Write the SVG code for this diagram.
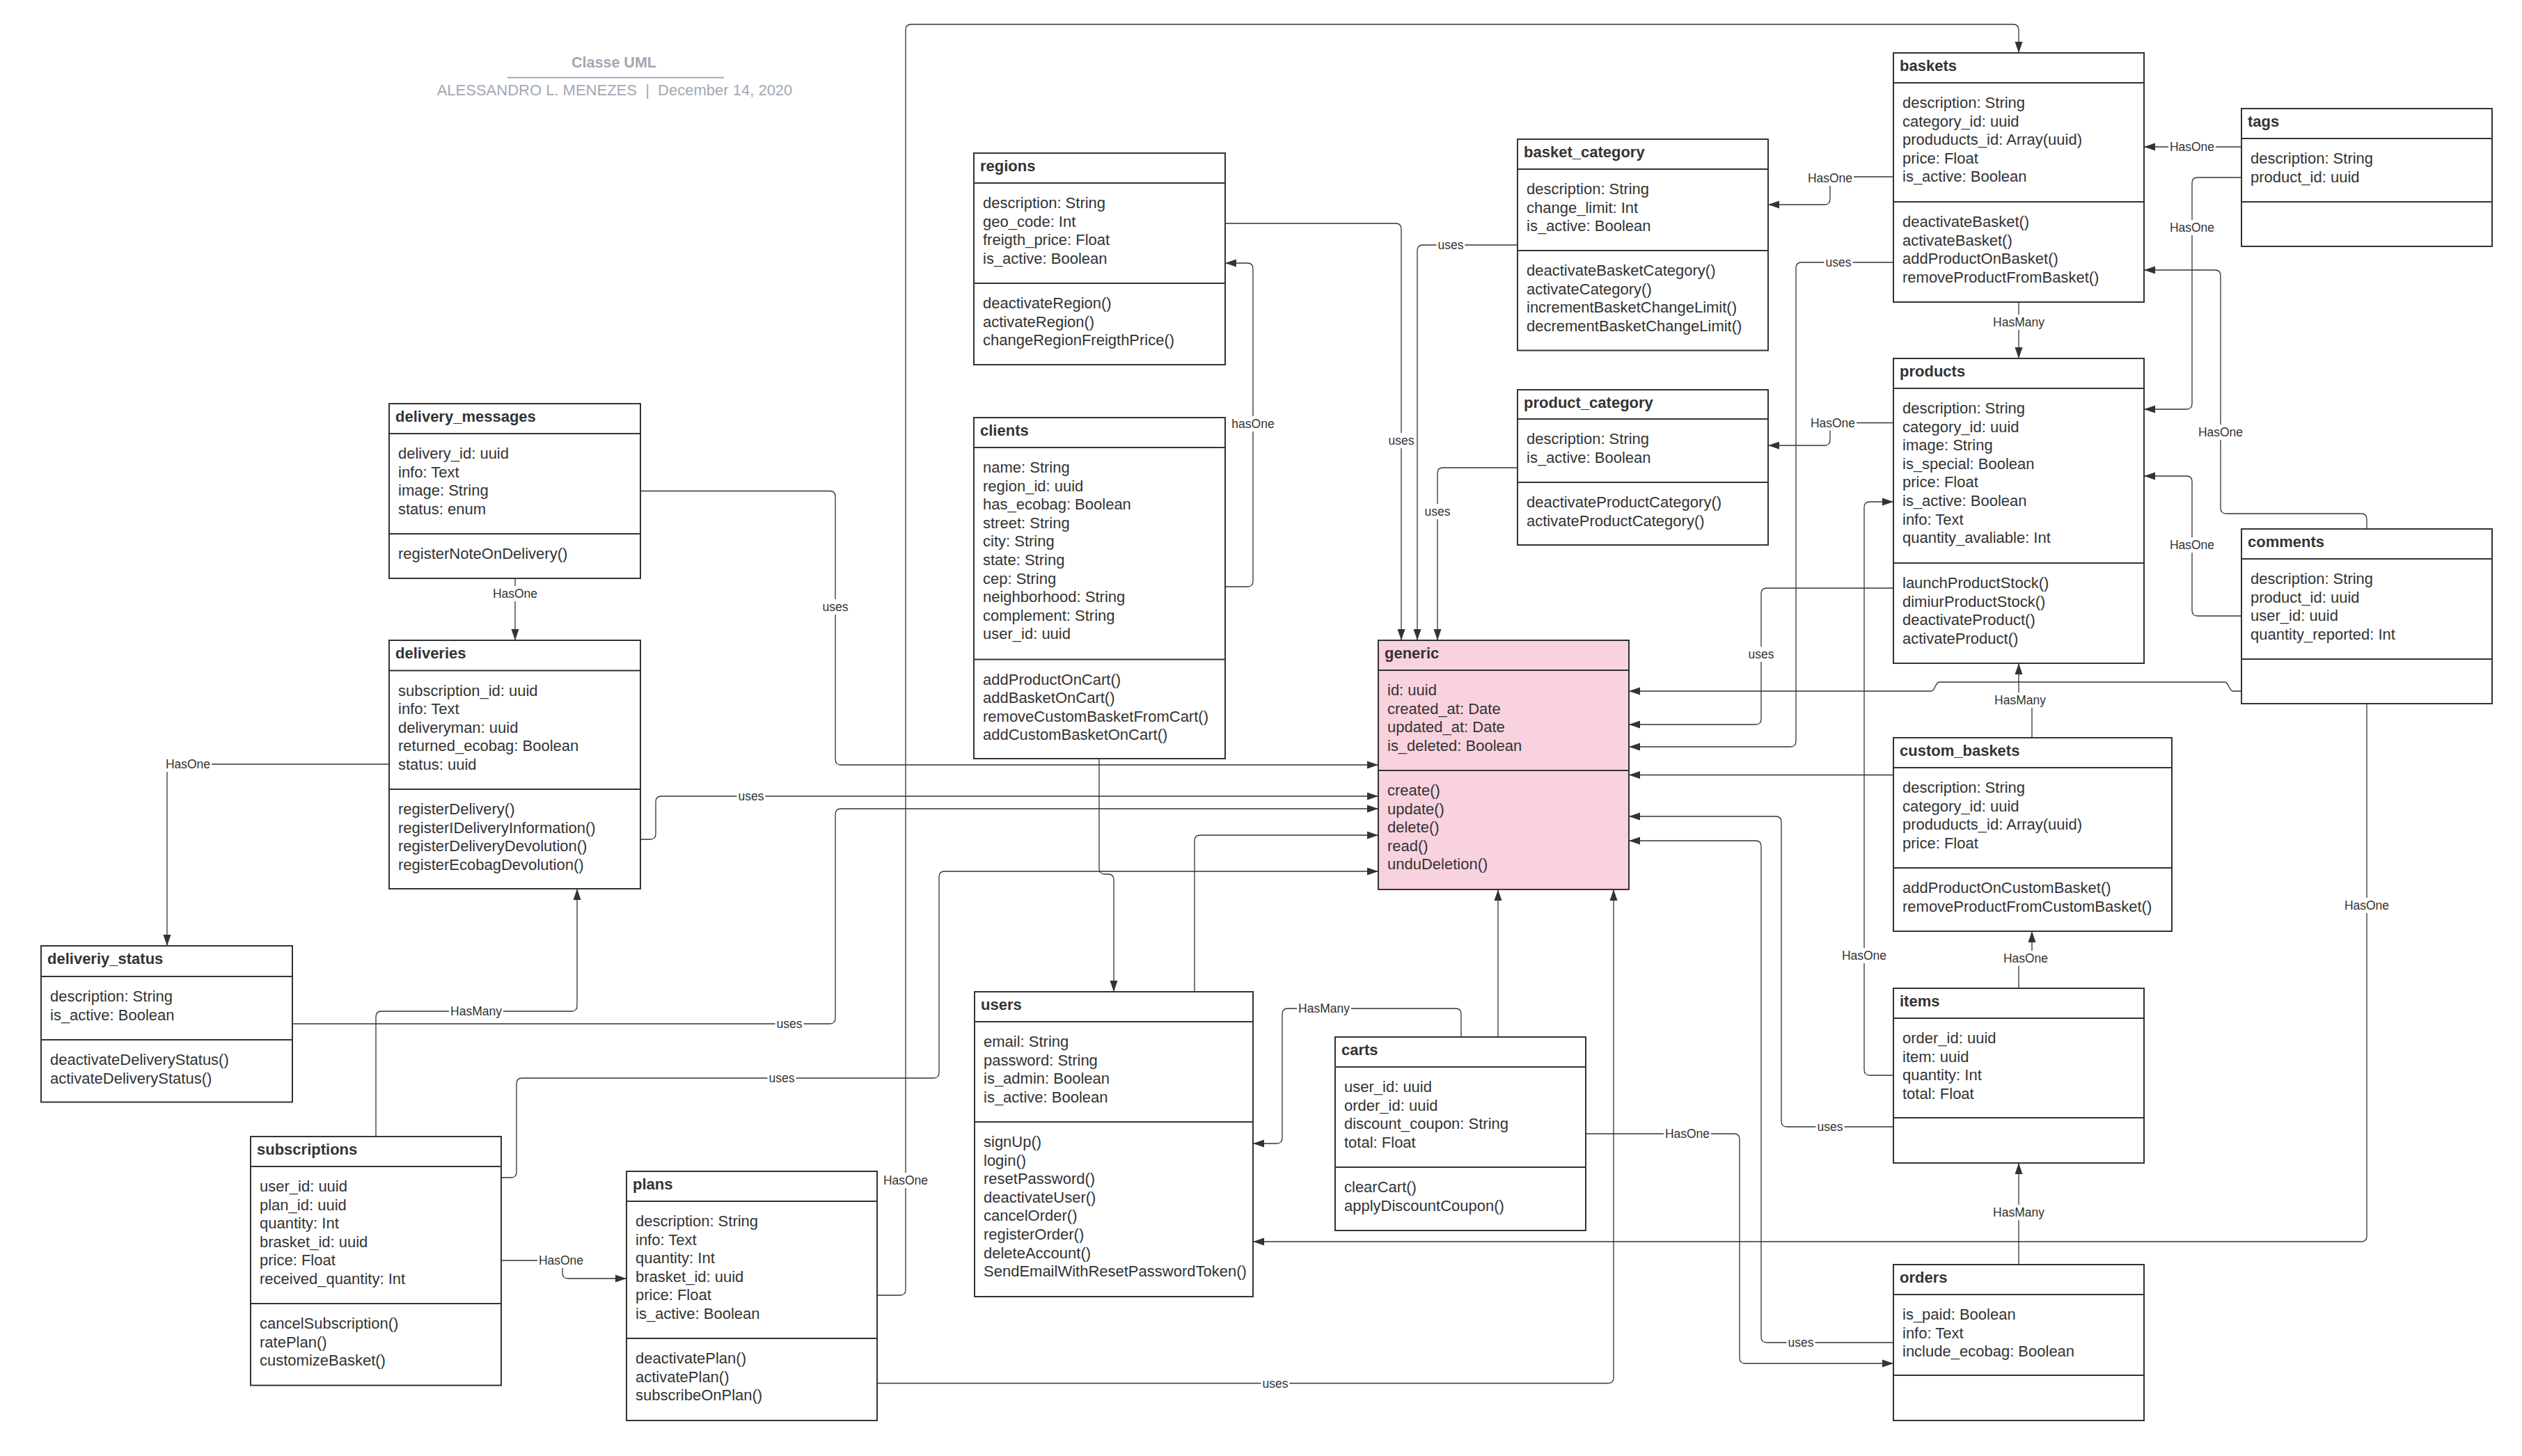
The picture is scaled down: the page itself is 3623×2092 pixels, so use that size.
<svg xmlns="http://www.w3.org/2000/svg" width="3623" height="2092" viewBox="0 0 3623 2092">
<style>
.bg{fill:#fff}
.box{fill:#fff;stroke:#333;stroke-width:2}
.pink{fill:#F8D2DE}
.sep{fill:none;stroke:#333;stroke-width:2}
.t{font-family:"Liberation Sans",Arial,sans-serif;font-size:22px;fill:#333}
.tt{font-family:"Liberation Sans",Arial,sans-serif;font-size:22px;font-weight:bold;fill:#333}
.conn{fill:none;stroke:#333;stroke-width:1.3;marker-end:url(#arr)}
.lbl rect{fill:#fff}
.lbl text{font-family:"Liberation Sans",Arial,sans-serif;font-size:17.5px;fill:#333;text-anchor:middle}
.hd{font-family:"Liberation Sans",Arial,sans-serif;fill:#A3A8B4;text-anchor:middle}
</style>
<defs>
<marker id="arr" markerUnits="userSpaceOnUse" markerWidth="16" markerHeight="12" refX="16" refY="6" orient="auto">
<path d="M0 0.5 L16 6 L0 11.5 Z" fill="#333"/>
</marker>
</defs>
<rect class="bg" x="0" y="0" width="3623" height="2092"/>

<g id="header">
<text class="hd" x="882" y="97" font-size="21.5" font-weight="bold">Classe UML</text>
<line x1="729" y1="111.5" x2="1040" y2="111.5" stroke="#A3A8B4" stroke-width="2"/>
<text class="hd" x="883" y="137" font-size="22" style="white-space:pre">ALESSANDRO L. MENEZES  |  December 14, 2020</text>
</g>

<g id="connectors">
<path class="conn" d="M1760 321 H2005 Q2013 321 2013 329 V920"/>
<path class="conn" d="M2180 352 H2044 Q2036 352 2036 360 V920"/>
<path class="conn" d="M2180 672 H2073 Q2065 672 2065 680 V920"/>
<path class="conn" d="M920 705.5 H1192 Q1200 705.5 1200 713.5 V1091 Q1200 1099 1208 1099 H1980"/>
<path class="conn" d="M920 1206 H934 Q942 1206 942 1198 V1152 Q942 1144 950 1144 H1980"/>
<path class="conn" d="M420 1471 H1192 Q1200 1471 1200 1463 V1170 Q1200 1162 1208 1162 H1980"/>
<path class="conn" d="M720 1692 H734 Q742 1692 742 1684 V1557 Q742 1549 750 1549 H1341 Q1349 1549 1349 1541 V1260 Q1349 1252 1357 1252 H1980"/>
<path class="conn" d="M1716 1425 V1208 Q1716 1200 1724 1200 H1980"/>
<path class="conn" d="M1579 1090 V1248 Q1579 1256 1587 1256 H1592 Q1600 1256 1600 1264 V1425"/>
<path class="conn" d="M1260 1861 H1293 Q1301 1861 1301 1853 V43 Q1301 35 1309 35 H2892 Q2900 35 2900 43 V76"/>
<path class="conn" d="M720 1811 H800 Q808 1811 808 1819 V1829 Q808 1837 816 1837 H900"/>
<path class="conn" d="M1260 1987.5 H2310 Q2318 1987.5 2318 1979.5 V1278"/>
<path class="conn" d="M2152 1490 V1278"/>
<path class="conn" d="M2099 1490 V1457 Q2099 1449 2091 1449 H1850 Q1842 1449 1842 1457 V1635 Q1842 1643 1834 1643 H1800"/>
<path class="conn" d="M3400 1011 V1776 Q3400 1784 3392 1784 H1800"/>
<path class="conn" d="M3400 760 V746 Q3400 738 3392 738 H3198 Q3190 738 3190 730 V396 Q3190 388 3182 388 H3080"/>
<path class="conn" d="M3220 211 H3080"/>
<path class="conn" d="M3220 255 H3157 Q3149 255 3149 263 V580 Q3149 588 3141 588 H3080"/>
<path class="conn" d="M3220 885 H3157 Q3149 885 3149 877 V692 Q3149 684 3141 684 H3080"/>
<path class="conn" d="M2900 434 V515"/>
<path class="conn" d="M2720 254 H2637 Q2629 254 2629 262 V286 Q2629 294 2621 294 H2540"/>
<path class="conn" d="M2720 607.5 H2637 Q2629 607.5 2629 615.5 V632 Q2629 640 2621 640 H2540"/>
<path class="conn" d="M2720 377 H2588 Q2580 377 2580 385 V1065 Q2580 1073 2572 1073 H2340"/>
<path class="conn" d="M2720 845 H2538 Q2530 845 2530 853 V1033 Q2530 1041 2522 1041 H2340"/>
<path class="conn" d="M3220 993 H3208 C3202 993 3202 980 3196 980 H2786 C2780 980 2780 993 2774 993 H2340"/>
<path class="conn" d="M2919 1060 V1006 H2900 V953"/>
<path class="conn" d="M2720 1113.5 H2340"/>
<path class="conn" d="M2900 1420 V1377 H2919 V1338"/>
<path class="conn" d="M2720 1545 H2686 Q2678 1545 2678 1537 V729 Q2678 721 2686 721 H2720"/>
<path class="conn" d="M2720 1619 H2567 Q2559 1619 2559 1611 V1181 Q2559 1173 2551 1173 H2340"/>
<path class="conn" d="M2720 1929 H2538 Q2530 1929 2530 1921 V1216 Q2530 1208 2522 1208 H2340"/>
<path class="conn" d="M2278 1629 H2491 Q2499 1629 2499 1637 V1951 Q2499 1959 2507 1959 H2720"/>
<path class="conn" d="M2900 1817 V1671"/>
<path class="conn" d="M1760 843 H1792 Q1800 843 1800 835 V386 Q1800 378 1792 378 H1760"/>
<path class="conn" d="M740 831 V920"/>
<path class="conn" d="M559 1098 H248 Q240 1098 240 1106 V1359"/>
<path class="conn" d="M540 1633 V1461 Q540 1453 548 1453 H821 Q829 1453 829 1445 V1277"/>

<g class="lbl"><rect x="1992.5" y="622" width="41" height="22"/><text x="2013" y="639">uses</text></g>
<g class="lbl"><rect x="2063.5" y="341" width="41" height="22"/><text x="2084" y="358">uses</text></g>
<g class="lbl"><rect x="2044.5" y="724" width="41" height="22"/><text x="2065" y="741">uses</text></g>
<g class="lbl"><rect x="1179.5" y="861" width="41" height="22"/><text x="1200" y="878">uses</text></g>
<g class="lbl"><rect x="1058.5" y="1133" width="41" height="22"/><text x="1079" y="1150">uses</text></g>
<g class="lbl"><rect x="1113.5" y="1460" width="41" height="22"/><text x="1134" y="1477">uses</text></g>
<g class="lbl"><rect x="1102.5" y="1538" width="41" height="22"/><text x="1123" y="1555">uses</text></g>
<g class="lbl"><rect x="1267" y="1685" width="68" height="22"/><text x="1301" y="1702">HasOne</text></g>
<g class="lbl"><rect x="772" y="1800" width="68" height="22"/><text x="806" y="1817">HasOne</text></g>
<g class="lbl"><rect x="1811.5" y="1976.5" width="41" height="22"/><text x="1832" y="1993.5">uses</text></g>
<g class="lbl"><rect x="1863" y="1438" width="78" height="22"/><text x="1902" y="1455">HasMany</text></g>
<g class="lbl"><rect x="3366" y="1290" width="68" height="22"/><text x="3400" y="1307">HasOne</text></g>
<g class="lbl"><rect x="3156" y="610" width="68" height="22"/><text x="3190" y="627">HasOne</text></g>
<g class="lbl"><rect x="3115" y="200" width="68" height="22"/><text x="3149" y="217">HasOne</text></g>
<g class="lbl"><rect x="3115" y="316" width="68" height="22"/><text x="3149" y="333">HasOne</text></g>
<g class="lbl"><rect x="3115" y="772" width="68" height="22"/><text x="3149" y="789">HasOne</text></g>
<g class="lbl"><rect x="2861" y="452" width="78" height="22"/><text x="2900" y="469">HasMany</text></g>
<g class="lbl"><rect x="2595" y="245" width="68" height="22"/><text x="2629" y="262">HasOne</text></g>
<g class="lbl"><rect x="2599" y="596.5" width="68" height="22"/><text x="2633" y="613.5">HasOne</text></g>
<g class="lbl"><rect x="2620.5" y="366" width="41" height="22"/><text x="2641" y="383">uses</text></g>
<g class="lbl"><rect x="2509.5" y="929" width="41" height="22"/><text x="2530" y="946">uses</text></g>
<g class="lbl"><rect x="2863" y="995" width="78" height="22"/><text x="2902" y="1012">HasMany</text></g>
<g class="lbl"><rect x="2876" y="1366" width="68" height="22"/><text x="2910" y="1383">HasOne</text></g>
<g class="lbl"><rect x="2644" y="1362" width="68" height="22"/><text x="2678" y="1379">HasOne</text></g>
<g class="lbl"><rect x="2608.5" y="1608" width="41" height="22"/><text x="2629" y="1625">uses</text></g>
<g class="lbl"><rect x="2566.5" y="1918" width="41" height="22"/><text x="2587" y="1935">uses</text></g>
<g class="lbl"><rect x="2390" y="1618" width="68" height="22"/><text x="2424" y="1635">HasOne</text></g>
<g class="lbl"><rect x="2861" y="1731" width="78" height="22"/><text x="2900" y="1748">HasMany</text></g>
<g class="lbl"><rect x="1767.5" y="598" width="65" height="22"/><text x="1800" y="615">hasOne</text></g>
<g class="lbl"><rect x="706" y="842" width="68" height="22"/><text x="740" y="859">HasOne</text></g>
<g class="lbl"><rect x="236" y="1087" width="68" height="22"/><text x="270" y="1104">HasOne</text></g>
<g class="lbl"><rect x="645" y="1442" width="78" height="22"/><text x="684" y="1459">HasMany</text></g>
</g>

<g id="regions">
<rect class="box" x="1399" y="220" width="361" height="304"/>
<path class="sep" d="M1399 263H1760M1399 407H1760"/>
<text class="tt" x="1408" y="246">regions</text>
<text class="t" y="299"><tspan x="1412" dy="0">description: String</tspan><tspan x="1412" dy="26.6">geo_code: Int</tspan><tspan x="1412" dy="26.6">freigth_price: Float</tspan><tspan x="1412" dy="26.6">is_active: Boolean</tspan></text>
<text class="t" y="443"><tspan x="1412" dy="0">deactivateRegion()</tspan><tspan x="1412" dy="26.6">activateRegion()</tspan><tspan x="1412" dy="26.6">changeRegionFreigthPrice()</tspan></text>
</g>

<g id="clients">
<rect class="box" x="1399" y="600" width="361" height="490"/>
<path class="sep" d="M1399 643H1760M1399 947.5H1760"/>
<text class="tt" x="1408" y="626">clients</text>
<text class="t" y="679"><tspan x="1412" dy="0">name: String</tspan><tspan x="1412" dy="26.6">region_id: uuid</tspan><tspan x="1412" dy="26.6">has_ecobag: Boolean</tspan><tspan x="1412" dy="26.6">street: String</tspan><tspan x="1412" dy="26.6">city: String</tspan><tspan x="1412" dy="26.6">state: String</tspan><tspan x="1412" dy="26.6">cep: String</tspan><tspan x="1412" dy="26.6">neighborhood: String</tspan><tspan x="1412" dy="26.6">complement: String</tspan><tspan x="1412" dy="26.6">user_id: uuid</tspan></text>
<text class="t" y="983.5"><tspan x="1412" dy="0">addProductOnCart()</tspan><tspan x="1412" dy="26.6">addBasketOnCart()</tspan><tspan x="1412" dy="26.6">removeCustomBasketFromCart()</tspan><tspan x="1412" dy="26.6">addCustomBasketOnCart()</tspan></text>
</g>

<g id="delivery_messages">
<rect class="box" x="559" y="580" width="361" height="251"/>
<path class="sep" d="M559 623H920M559 767H920"/>
<text class="tt" x="568" y="606">delivery_messages</text>
<text class="t" y="659"><tspan x="572" dy="0">delivery_id: uuid</tspan><tspan x="572" dy="26.6">info: Text</tspan><tspan x="572" dy="26.6">image: String</tspan><tspan x="572" dy="26.6">status: enum</tspan></text>
<text class="t" y="803"><tspan x="572" dy="0">registerNoteOnDelivery()</tspan></text>
</g>

<g id="deliveries">
<rect class="box" x="559" y="920" width="361" height="357"/>
<path class="sep" d="M559 963.5H920M559 1134H920"/>
<text class="tt" x="568" y="946">deliveries</text>
<text class="t" y="999.5"><tspan x="572" dy="0">subscription_id: uuid</tspan><tspan x="572" dy="26.6">info: Text</tspan><tspan x="572" dy="26.6">deliveryman: uuid</tspan><tspan x="572" dy="26.6">returned_ecobag: Boolean</tspan><tspan x="572" dy="26.6">status: uuid</tspan></text>
<text class="t" y="1170"><tspan x="572" dy="0">registerDelivery()</tspan><tspan x="572" dy="26.6">registerIDeliveryInformation()</tspan><tspan x="572" dy="26.6">registerDeliveryDevolution()</tspan><tspan x="572" dy="26.6">registerEcobagDevolution()</tspan></text>
</g>

<g id="deliveriy_status">
<rect class="box" x="59" y="1359" width="361" height="224.5"/>
<path class="sep" d="M59 1403H420M59 1494H420"/>
<text class="tt" x="68" y="1385">deliveriy_status</text>
<text class="t" y="1439"><tspan x="72" dy="0">description: String</tspan><tspan x="72" dy="26.6">is_active: Boolean</tspan></text>
<text class="t" y="1530"><tspan x="72" dy="0">deactivateDeliveryStatus()</tspan><tspan x="72" dy="26.6">activateDeliveryStatus()</tspan></text>
</g>

<g id="subscriptions">
<rect class="box" x="360" y="1633" width="360" height="357.5"/>
<path class="sep" d="M360 1676H720M360 1873H720"/>
<text class="tt" x="369" y="1659">subscriptions</text>
<text class="t" y="1712"><tspan x="373" dy="0">user_id: uuid</tspan><tspan x="373" dy="26.6">plan_id: uuid</tspan><tspan x="373" dy="26.6">quantity: Int</tspan><tspan x="373" dy="26.6">brasket_id: uuid</tspan><tspan x="373" dy="26.6">price: Float</tspan><tspan x="373" dy="26.6">received_quantity: Int</tspan></text>
<text class="t" y="1909"><tspan x="373" dy="0">cancelSubscription()</tspan><tspan x="373" dy="26.6">ratePlan()</tspan><tspan x="373" dy="26.6">customizeBasket()</tspan></text>
</g>

<g id="plans">
<rect class="box" x="900" y="1683" width="360" height="358"/>
<path class="sep" d="M900 1726H1260M900 1923H1260"/>
<text class="tt" x="909" y="1709">plans</text>
<text class="t" y="1762"><tspan x="913" dy="0">description: String</tspan><tspan x="913" dy="26.6">info: Text</tspan><tspan x="913" dy="26.6">quantity: Int</tspan><tspan x="913" dy="26.6">brasket_id: uuid</tspan><tspan x="913" dy="26.6">price: Float</tspan><tspan x="913" dy="26.6">is_active: Boolean</tspan></text>
<text class="t" y="1959"><tspan x="913" dy="0">deactivatePlan()</tspan><tspan x="913" dy="26.6">activatePlan()</tspan><tspan x="913" dy="26.6">subscribeOnPlan()</tspan></text>
</g>

<g id="users">
<rect class="box" x="1400" y="1425" width="400" height="438"/>
<path class="sep" d="M1400 1468H1800M1400 1612H1800"/>
<text class="tt" x="1409" y="1451">users</text>
<text class="t" y="1504"><tspan x="1413" dy="0">email: String</tspan><tspan x="1413" dy="26.6">password: String</tspan><tspan x="1413" dy="26.6">is_admin: Boolean</tspan><tspan x="1413" dy="26.6">is_active: Boolean</tspan></text>
<text class="t" y="1648"><tspan x="1413" dy="0">signUp()</tspan><tspan x="1413" dy="26.6">login()</tspan><tspan x="1413" dy="26.6">resetPassword()</tspan><tspan x="1413" dy="26.6">deactivateUser()</tspan><tspan x="1413" dy="26.6">cancelOrder()</tspan><tspan x="1413" dy="26.6">registerOrder()</tspan><tspan x="1413" dy="26.6">deleteAccount()</tspan><tspan x="1413" dy="26.6">SendEmailWithResetPasswordToken()</tspan></text>
</g>

<g id="generic">
<rect class="box pink" x="1980" y="920" width="360" height="358"/>
<path class="sep" d="M1980 963H2340M1980 1107H2340"/>
<text class="tt" x="1989" y="946">generic</text>
<text class="t" y="999"><tspan x="1993" dy="0">id: uuid</tspan><tspan x="1993" dy="26.6">created_at: Date</tspan><tspan x="1993" dy="26.6">updated_at: Date</tspan><tspan x="1993" dy="26.6">is_deleted: Boolean</tspan></text>
<text class="t" y="1143"><tspan x="1993" dy="0">create()</tspan><tspan x="1993" dy="26.6">update()</tspan><tspan x="1993" dy="26.6">delete()</tspan><tspan x="1993" dy="26.6">read()</tspan><tspan x="1993" dy="26.6">unduDeletion()</tspan></text>
</g>

<g id="basket_category">
<rect class="box" x="2180" y="200" width="360" height="303.5"/>
<path class="sep" d="M2180 243H2540M2180 360H2540"/>
<text class="tt" x="2189" y="226">basket_category</text>
<text class="t" y="279"><tspan x="2193" dy="0">description: String</tspan><tspan x="2193" dy="26.6">change_limit: Int</tspan><tspan x="2193" dy="26.6">is_active: Boolean</tspan></text>
<text class="t" y="396"><tspan x="2193" dy="0">deactivateBasketCategory()</tspan><tspan x="2193" dy="26.6">activateCategory()</tspan><tspan x="2193" dy="26.6">incrementBasketChangeLimit()</tspan><tspan x="2193" dy="26.6">decrementBasketChangeLimit()</tspan></text>
</g>

<g id="product_category">
<rect class="box" x="2180" y="560" width="360" height="223"/>
<path class="sep" d="M2180 602H2540M2180 693H2540"/>
<text class="tt" x="2189" y="586">product_category</text>
<text class="t" y="638"><tspan x="2193" dy="0">description: String</tspan><tspan x="2193" dy="26.6">is_active: Boolean</tspan></text>
<text class="t" y="729"><tspan x="2193" dy="0">deactivateProductCategory()</tspan><tspan x="2193" dy="26.6">activateProductCategory()</tspan></text>
</g>

<g id="baskets">
<rect class="box" x="2720" y="76" width="360" height="358"/>
<path class="sep" d="M2720 119H3080M2720 290H3080"/>
<text class="tt" x="2729" y="102">baskets</text>
<text class="t" y="155"><tspan x="2733" dy="0">description: String</tspan><tspan x="2733" dy="26.6">category_id: uuid</tspan><tspan x="2733" dy="26.6">produducts_id: Array(uuid)</tspan><tspan x="2733" dy="26.6">price: Float</tspan><tspan x="2733" dy="26.6">is_active: Boolean</tspan></text>
<text class="t" y="326"><tspan x="2733" dy="0">deactivateBasket()</tspan><tspan x="2733" dy="26.6">activateBasket()</tspan><tspan x="2733" dy="26.6">addProductOnBasket()</tspan><tspan x="2733" dy="26.6">removeProductFromBasket()</tspan></text>
</g>

<g id="tags">
<rect class="box" x="3220" y="156" width="360" height="198"/>
<path class="sep" d="M3220 199H3580M3220 290H3580"/>
<text class="tt" x="3229" y="182">tags</text>
<text class="t" y="235"><tspan x="3233" dy="0">description: String</tspan><tspan x="3233" dy="26.6">product_id: uuid</tspan></text>
</g>

<g id="products">
<rect class="box" x="2720" y="515" width="360" height="438"/>
<path class="sep" d="M2720 558H3080M2720 809H3080"/>
<text class="tt" x="2729" y="541">products</text>
<text class="t" y="594"><tspan x="2733" dy="0">description: String</tspan><tspan x="2733" dy="26.6">category_id: uuid</tspan><tspan x="2733" dy="26.6">image: String</tspan><tspan x="2733" dy="26.6">is_special: Boolean</tspan><tspan x="2733" dy="26.6">price: Float</tspan><tspan x="2733" dy="26.6">is_active: Boolean</tspan><tspan x="2733" dy="26.6">info: Text</tspan><tspan x="2733" dy="26.6">quantity_avaliable: Int</tspan></text>
<text class="t" y="845"><tspan x="2733" dy="0">launchProductStock()</tspan><tspan x="2733" dy="26.6">dimiurProductStock()</tspan><tspan x="2733" dy="26.6">deactivateProduct()</tspan><tspan x="2733" dy="26.6">activateProduct()</tspan></text>
</g>

<g id="comments">
<rect class="box" x="3220" y="760" width="360" height="251"/>
<path class="sep" d="M3220 803H3580M3220 947H3580"/>
<text class="tt" x="3229" y="786">comments</text>
<text class="t" y="839"><tspan x="3233" dy="0">description: String</tspan><tspan x="3233" dy="26.6">product_id: uuid</tspan><tspan x="3233" dy="26.6">user_id: uuid</tspan><tspan x="3233" dy="26.6">quantity_reported: Int</tspan></text>
</g>

<g id="custom_baskets">
<rect class="box" x="2720" y="1060" width="400" height="278"/>
<path class="sep" d="M2720 1103H3120M2720 1247H3120"/>
<text class="tt" x="2729" y="1086">custom_baskets</text>
<text class="t" y="1139"><tspan x="2733" dy="0">description: String</tspan><tspan x="2733" dy="26.6">category_id: uuid</tspan><tspan x="2733" dy="26.6">produducts_id: Array(uuid)</tspan><tspan x="2733" dy="26.6">price: Float</tspan></text>
<text class="t" y="1283"><tspan x="2733" dy="0">addProductOnCustomBasket()</tspan><tspan x="2733" dy="26.6">removeProductFromCustomBasket()</tspan></text>
</g>

<g id="items">
<rect class="box" x="2720" y="1420" width="360" height="251"/>
<path class="sep" d="M2720 1463H3080M2720 1606H3080"/>
<text class="tt" x="2729" y="1446">items</text>
<text class="t" y="1499"><tspan x="2733" dy="0">order_id: uuid</tspan><tspan x="2733" dy="26.6">item: uuid</tspan><tspan x="2733" dy="26.6">quantity: Int</tspan><tspan x="2733" dy="26.6">total: Float</tspan></text>
</g>

<g id="orders">
<rect class="box" x="2720" y="1817" width="360" height="224"/>
<path class="sep" d="M2720 1860H3080M2720 1976H3080"/>
<text class="tt" x="2729" y="1843">orders</text>
<text class="t" y="1896"><tspan x="2733" dy="0">is_paid: Boolean</tspan><tspan x="2733" dy="26.6">info: Text</tspan><tspan x="2733" dy="26.6">include_ecobag: Boolean</tspan></text>
</g>

<g id="carts">
<rect class="box" x="1918" y="1490" width="360" height="278"/>
<path class="sep" d="M1918 1533H2278M1918 1677H2278"/>
<text class="tt" x="1927" y="1516">carts</text>
<text class="t" y="1569"><tspan x="1931" dy="0">user_id: uuid</tspan><tspan x="1931" dy="26.6">order_id: uuid</tspan><tspan x="1931" dy="26.6">discount_coupon: String</tspan><tspan x="1931" dy="26.6">total: Float</tspan></text>
<text class="t" y="1713"><tspan x="1931" dy="0">clearCart()</tspan><tspan x="1931" dy="26.6">applyDiscountCoupon()</tspan></text>
</g>
</svg>
